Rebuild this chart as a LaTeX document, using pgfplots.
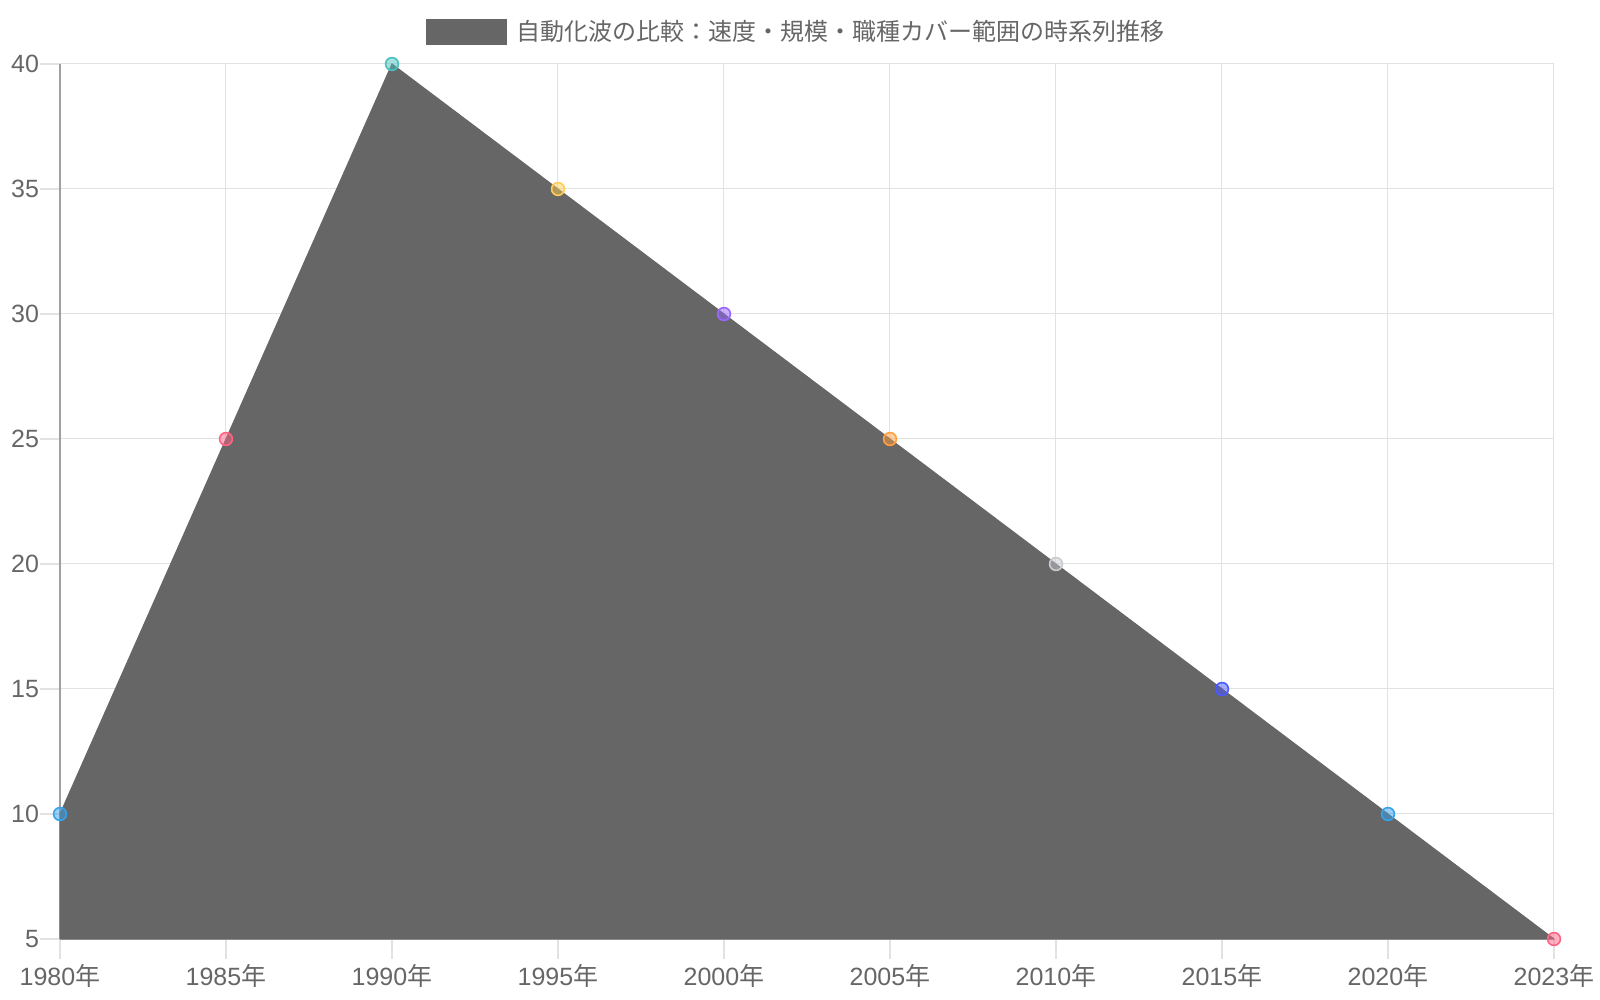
\documentclass[border=0pt]{standalone}
\usepackage{fontspec}
\usepackage{pgfplots}
\pgfplotsset{compat=1.18}
\setmainfont{Liberation Sans}
\newfontfamily\jp{Noto Sans CJK JP}
\definecolor{txt}{RGB}{102,102,102}
\definecolor{areagray}{RGB}{102,102,102}
\definecolor{gridc}{RGB}{226,226,226}
\definecolor{axc}{RGB}{160,160,160}
\definecolor{c1}{RGB}{54,162,235}
\definecolor{c2}{RGB}{255,99,132}
\definecolor{c3}{RGB}{75,192,192}
\definecolor{c4}{RGB}{255,205,86}
\definecolor{c5}{RGB}{153,102,255}
\definecolor{c6}{RGB}{255,159,64}
\definecolor{c7}{RGB}{201,203,207}
\definecolor{c8}{RGB}{75,90,255}
\begin{document}
\begin{tikzpicture}
\begin{axis}[
  at={(30pt,30.5pt)}, anchor=south west,
  scale only axis, width=747pt, height=437.5pt,
  xmin=0, xmax=9, ymin=5, ymax=40,
  xtick={0,...,9},
  xticklabels={1980{\jp 年},1985{\jp 年},1990{\jp 年},1995{\jp 年},2000{\jp 年},2005{\jp 年},2010{\jp 年},2015{\jp 年},2020{\jp 年},2023{\jp 年}},
  ytick={5,10,...,40},
  axis lines=left, axis line style={-, draw=axc, line width=0.6pt},
  tick align=outside, major tick length=10pt,
  tick style={draw=gridc, line width=0.6pt},
  grid=major, grid style={draw=gridc, line width=0.5pt},
  ticklabel style={font=\fontsize{12.5}{14}\selectfont, text=txt},
  xticklabel style={yshift=1pt},
  yticklabel style={xshift=3pt},
  /pgf/number format/assume math mode=true,
  clip=false,
  legend style={at={(0.4935,1)}, anchor=center, yshift=16pt, draw=none, fill=none,
    font=\jp\fontsize{12}{14}\selectfont, text=txt},
  legend image code/.code={\fill[areagray] (0pt,-6.25pt) rectangle (40pt,6.25pt); \path (43pt,0pt);},
]
\addplot[fill=areagray, draw=areagray, line width=0.5pt] coordinates {
 (0,10) (1,25) (2,40) (3,35) (4,30) (5,25) (6,20) (7,15) (8,10) (9,5) (0,5)
} -- cycle;
\addlegendentry{自動化波の比較：速度・規模・職種カバー範囲の時系列推移}
\addplot[scatter, only marks, scatter src=explicit symbolic, forget plot,
  scatter/classes={
   a={mark=*, mark size=3.2pt, draw=c1, fill=c1, fill opacity=0.5, line width=0.8pt},
   b={mark=*, mark size=3.2pt, draw=c2, fill=c2, fill opacity=0.5, line width=0.8pt},
   c={mark=*, mark size=3.2pt, draw=c3, fill=c3, fill opacity=0.5, line width=0.8pt},
   d={mark=*, mark size=3.2pt, draw=c4, fill=c4, fill opacity=0.5, line width=0.8pt},
   e={mark=*, mark size=3.2pt, draw=c5, fill=c5, fill opacity=0.5, line width=0.8pt},
   f={mark=*, mark size=3.2pt, draw=c6, fill=c6, fill opacity=0.5, line width=0.8pt},
   g={mark=*, mark size=3.2pt, draw=c7, fill=c7, fill opacity=0.5, line width=0.8pt},
   h={mark=*, mark size=3.2pt, draw=c8, fill=c8, fill opacity=0.5, line width=0.8pt},
   i={mark=*, mark size=3.2pt, draw=c1, fill=c1, fill opacity=0.5, line width=0.8pt},
   j={mark=*, mark size=3.2pt, draw=c2, fill=c2, fill opacity=0.5, line width=0.8pt}}]
 table[meta=c] {
 x y c
 0 10 a
 1 25 b
 2 40 c
 3 35 d
 4 30 e
 5 25 f
 6 20 g
 7 15 h
 8 10 i
 9 5 j
};
\end{axis}
\pgfresetboundingbox
\path (0,0) rectangle (800pt,500pt);
\end{tikzpicture}
\end{document}
